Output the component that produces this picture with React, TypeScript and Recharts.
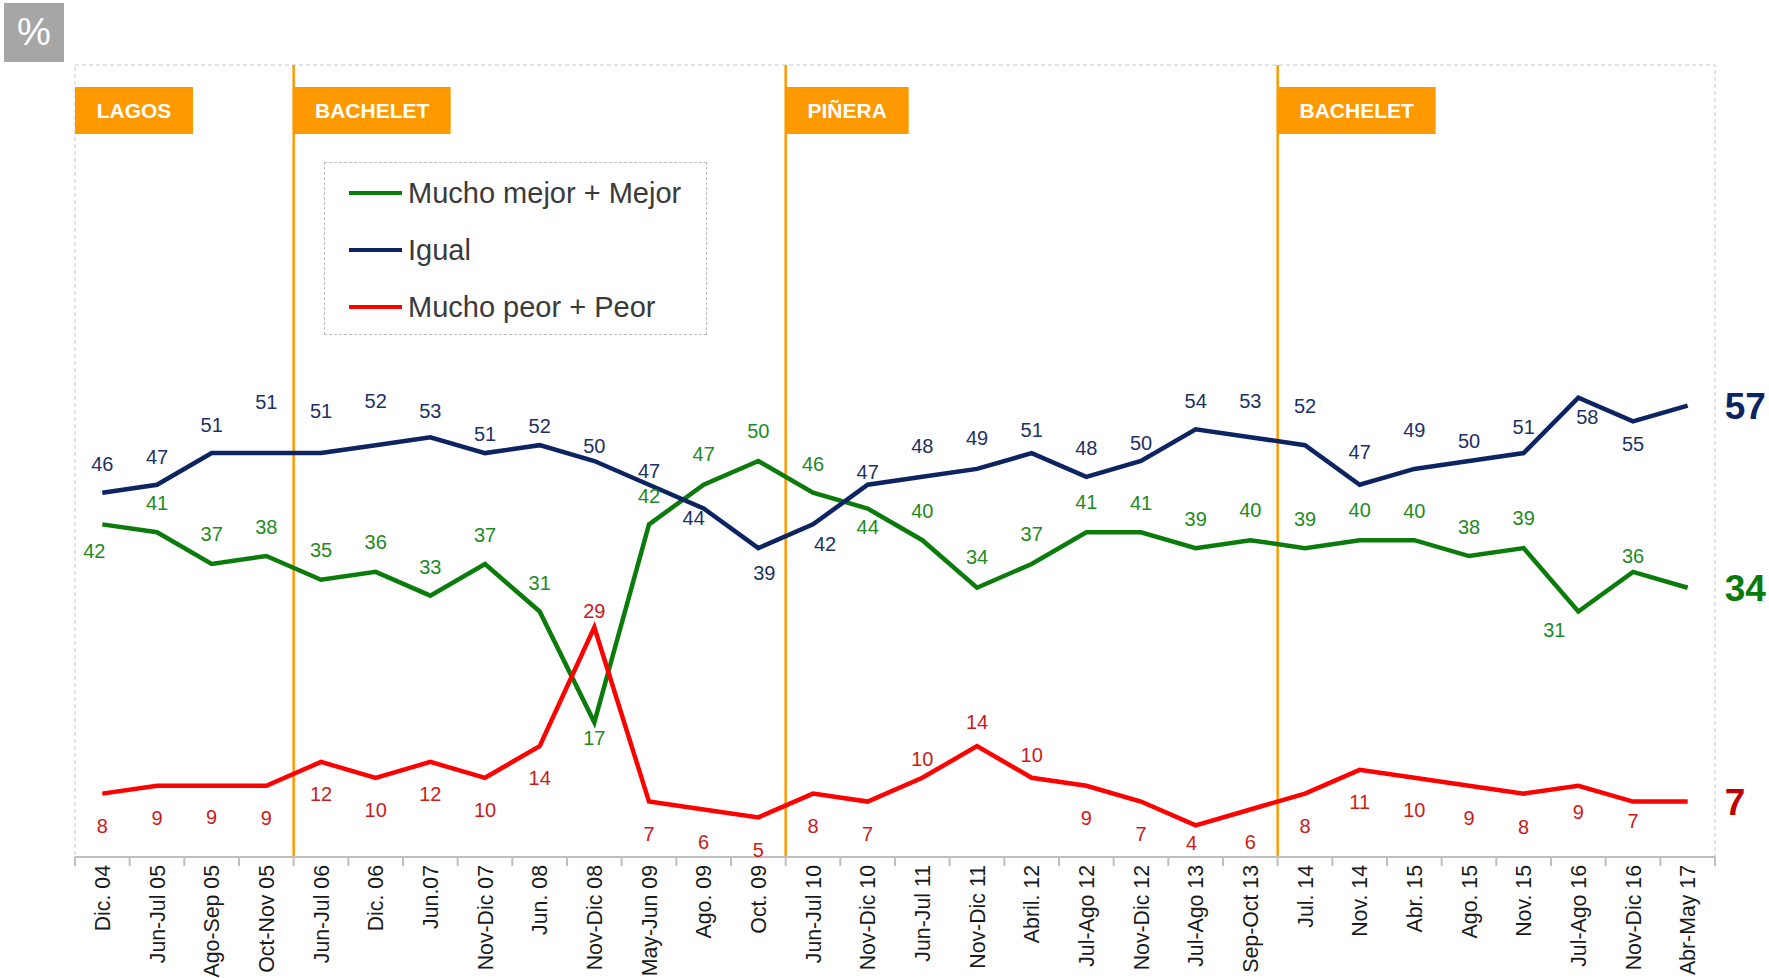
import { LineChart, Line, XAxis, YAxis, LabelList, ReferenceLine, ReferenceArea } from 'recharts'

const categories = [
  'Dic. 04', 'Jun-Jul 05', 'Ago-Sep 05', 'Oct-Nov 05', 'Jun-Jul 06', 'Dic. 06', 'Jun.07', 'Nov-Dic 07',
  'Jun. 08', 'Nov-Dic 08', 'May-Jun 09', 'Ago. 09', 'Oct. 09', 'Jun-Jul 10', 'Nov-Dic 10', 'Jun-Jul 11',
  'Nov-Dic 11', 'Abril. 12', 'Jul-Ago 12', 'Nov-Dic 12', 'Jul-Ago 13', 'Sep-Oct 13', 'Jul. 14', 'Nov. 14',
  'Abr. 15', 'Ago. 15', 'Nov. 15', 'Jul-Ago 16', 'Nov-Dic 16', 'Abr-May 17',
]
const mejor = [42, 41, 37, 38, 35, 36, 33, 37, 31, 17, 42, 47, 50, 46, 44, 40, 34, 37, 41, 41, 39, 40, 39, 40, 40, 38, 39, 31, 36, 34]
const igual = [46, 47, 51, 51, 51, 52, 53, 51, 52, 50, 47, 44, 39, 42, 47, 48, 49, 51, 48, 50, 54, 53, 52, 47, 49, 50, 51, 58, 55, 57]
const peor = [8, 9, 9, 9, 12, 10, 12, 10, 14, 29, 7, 6, 5, 8, 7, 10, 14, 10, 9, 7, 4, 6, 8, 11, 10, 9, 8, 9, 7, 7]

// government periods: name + index of the first survey of each term
const governments = ['LAGOS', 'BACHELET', 'PIÑERA', 'BACHELET']
const governmentStart = [0, 4, 13, 22]

// label offsets (px) so the numbers sit above/below the line like the original
const mejorDy = [26, -29, -30, -29, -30, -30, -29, -29, -29, 15, -29, -31, -30, -29, 18, -29, -31, -30, -30, -29, -29, -30, -29, -30, -29, -29, -30, 18, -16, 0]
const igualDy = [-29, -28, -28, -51, -42, -44, -26, -19, -19, -15, -14, 9, 25, 19, -13, -31, -31, -23, -29, -18, -29, -36, -39, -33, -39, -20, -26, 19, 22, 0]
const peorDy = [32, 32, 31, 32, 32, 32, 32, 32, 32, -17, 32, 32, 32, 32, 32, -19, -24, -23, 32, 32, 17, 32, 32, 32, 32, 32, 33, 26, 19, 0]
const mejorDx: Record<number, number> = { 0: -8, 27: -24 }
const igualDx: Record<number, number> = { 11: -10, 12: 6, 13: 12, 27: 9 }
const peorDx: Record<number, number> = { 20: -4 }

// pos = centre of each category slot on a 0..N numeric axis (used for period lines/boxes)
const data = categories.map((label, i) => ({ label, pos: i + 0.5, mejor: mejor[i], igual: igual[i], peor: peor[i] }))

const W = 1769
const H = 978
const M = { top: 65, left: 75, right: 54, bottom: 0 }
const AXIS_H = 121
const PLOT_W = W - M.left - M.right
const PLOT_H = H - M.top - AXIS_H
const BW = PLOT_W / categories.length
const pxToVal = (py: number) => ((H - AXIS_H - py) / PLOT_H) * 100

const ORANGE = '#ff9900'
const FONT = '"Liberation Sans", Arial, sans-serif'
const boxWidths = [118, 157, 123, 158]

const series = [
  { key: 'mejor', name: 'Mucho mejor + Mejor', line: '#0b7c0b', text: '#1f8a1f', end: '#0a7a0a', dy: mejorDy, dx: mejorDx },
  { key: 'igual', name: 'Igual', line: '#0c2461', text: '#1c3166', end: '#0c2461', dy: igualDy, dx: igualDx },
  { key: 'peor', name: 'Mucho peor + Peor', line: '#ff0000', text: '#cc1a1a', end: '#c00000', dy: peorDy, dx: peorDx },
]

function CategoryTick({ x, y, payload, index }: any) {
  const last = index === categories.length - 1
  return (
    <g>
      <line x1={x - BW / 2} x2={x - BW / 2} y1={y} y2={y + 9} stroke="#bfbfbf" strokeWidth={2} />
      {last && <line x1={x + BW / 2} x2={x + BW / 2} y1={y} y2={y + 9} stroke="#bfbfbf" strokeWidth={2} />}
      <text x={x} y={y + 8} dy="0.36em" textAnchor="end" fontSize={21.3} fill="#1a1a1a"
        fontFamily={FONT} transform={`rotate(-90, ${x}, ${y + 8})`}>
        {payload.value}
      </text>
    </g>
  )
}

function makeLabel(s: typeof series[number]) {
  return (props: any) => {
    const { x, y, value, index } = props
    if (index === categories.length - 1) {
      return (
        <text x={x + 37} y={y} dy="0.36em" fontSize={37} fontWeight={700} fill={s.end} fontFamily={FONT}>
          {value}
        </text>
      )
    }
    const dx = s.dx[index] ?? 0
    return (
      <text x={x + dx} y={y + s.dy[index]} dy="0.36em" textAnchor="middle" fontSize={20} fill={s.text} fontFamily={FONT}>
        {value}
      </text>
    )
  }
}

function BoxLabel({ viewBox, text }: any) {
  const { x, y, width, height } = viewBox
  return (
    <text x={x + width / 2} y={y + height / 2} dy="0.36em" textAnchor="middle" fill="#fff"
      fontSize={21} fontWeight={700} fontFamily={FONT}>
      {text}
    </text>
  )
}

export default function App() {
  return (
    <div style={{ position: 'absolute', left: 0, top: 0, width: W, height: H, background: '#fff', fontFamily: FONT }}>
      <LineChart width={W} height={H} data={data} margin={M}>
        <XAxis dataKey="label" scale="point" padding={{ left: BW / 2, right: BW / 2 }} interval={0}
          height={AXIS_H} tickSize={0} tickMargin={0} tick={<CategoryTick />}
          axisLine={{ stroke: '#bfbfbf', strokeWidth: 2 }} tickLine={false} />
        <XAxis xAxisId="n" dataKey="pos" type="number" domain={[0, categories.length]} allowDataOverflow hide />
        <YAxis domain={[0, 100]} hide />

        <ReferenceArea xAxisId="n" x1={0} x2={categories.length} y1={0} y2={100}
          fill="none" stroke="#c8c8c8" strokeDasharray="4 3" ifOverflow="visible" />

        {governmentStart.slice(1).map((g, i) => (
          <ReferenceLine key={i} xAxisId="n" x={g} stroke={ORANGE} strokeWidth={2.5} />
        ))}

        {governments.map((g, i) => (
          <ReferenceArea key={g + i} xAxisId="n" x1={governmentStart[i]} x2={governmentStart[i] + boxWidths[i] / BW}
            y1={pxToVal(134)} y2={pxToVal(87)} fill={ORANGE} fillOpacity={1} stroke="none"
            label={<BoxLabel text={g} />} />
        ))}

        {series.map(s => (
          <Line key={s.key} type="linear" dataKey={s.key} stroke={s.line} strokeWidth={4.5}
            dot={false} activeDot={false} isAnimationActive={false}>
            <LabelList dataKey={s.key} content={makeLabel(s)} />
          </Line>
        ))}
      </LineChart>

      <div style={{ position: 'absolute', left: 4, top: 3, width: 60, height: 59, background: '#a6a6a6',
        color: '#fff', fontSize: 38, display: 'flex', alignItems: 'center', justifyContent: 'center' }}>
        %
      </div>

      <div style={{ position: 'absolute', left: 324, top: 162, width: 383, height: 173, background: '#fff',
        border: '1px dashed #bfbfbf', boxSizing: 'border-box' }}>
        {series.map((s, i) => (
          <div key={s.key} style={{ position: 'absolute', left: 24, top: 30 + i * 57 - 18, height: 36,
            display: 'flex', alignItems: 'center' }}>
            <span style={{ display: 'inline-block', width: 53, height: 4, background: s.line, marginRight: 6 }} />
            <span style={{ fontSize: 29, color: '#3a3a3a', whiteSpace: 'nowrap' }}>{s.name}</span>
          </div>
        ))}
      </div>
    </div>
  )
}
